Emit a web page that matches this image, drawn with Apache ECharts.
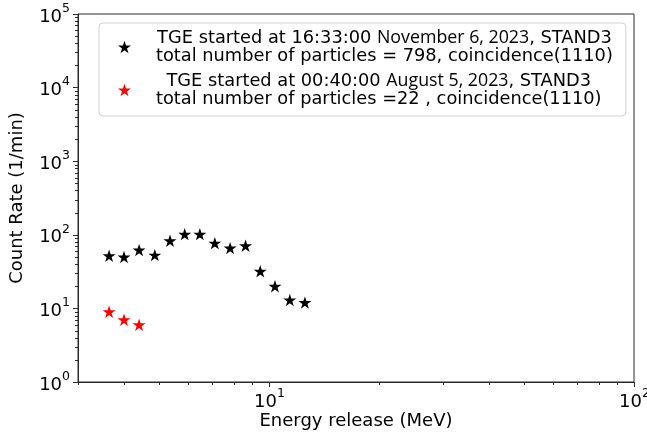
<!DOCTYPE html>
<html>
<head>
<meta charset="utf-8">
<script src="https://cdn.jsdelivr.net/npm/echarts@6/dist/echarts.min.js"></script>
<style>
  html, body { margin: 0; padding: 0; background: #fff; }
  #chart { width: 647px; height: 435px; }
</style>
</head>
<body>
<div id="chart"></div>
<script>
// Energy bins (MeV) and count rates (1/min) for the two TGE events
const energy = [3.65, 4.01, 4.41, 4.87, 5.36, 5.88, 6.47, 7.11, 7.83, 8.63, 9.47, 10.39, 11.41, 12.55];
const novRate = [52, 50, 62, 53, 83, 102, 102, 77, 66, 71, 32, 20, 13, 12];
const augEnergy = [3.65, 4.01, 4.41];
const augRate = [9, 7, 6];

const novLabel = ['TGE started at 16:33:00 ', 'November 6, 2023', ', STAND3', 'total number of particles = 798, coincidence(1110)'];
const augLabel = ['TGE started at 00:40:00 ', 'August 5, 2023', ', STAND3', 'total number of particles =22 , coincidence(1110)'];

// Axis ranges and tick values
const X_MIN = 3, X_MAX = 100;
const Y_MIN = 1, Y_MAX = 100000;
const xMajorTicks = [10, 100];
const xMinorTicks = [3, 4, 5, 6, 7, 8, 9, 20, 30, 40, 50, 60, 70, 80, 90];
const yMinorTicks = [
  2, 3, 4, 5, 6, 7, 8, 9,
  20, 30, 40, 50, 60, 70, 80, 90,
  200, 300, 400, 500, 600, 700, 800, 900,
  2000, 3000, 4000, 5000, 6000, 7000, 8000, 9000,
  20000, 30000, 40000, 50000, 60000, 70000, 80000, 90000
];

const FONT = 'DejaVu Sans';
const AXIS_COLOR = '#2a2a2a';
const STAR = 'path://M50 0 L61.23 34.55 L97.55 34.55 L68.17 55.9 L79.39 90.45 L50 69.1 L20.61 90.45 L31.83 55.9 L2.45 34.55 L38.77 34.55 Z';

const powRich = {
  b: { fontFamily: FONT, fontSize: 18, color: '#000', verticalAlign: 'bottom', lineHeight: 24 },
  s: { fontFamily: FONT, fontSize: 12.5, color: '#000', verticalAlign: 'top', lineHeight: 24 }
};
function powLabel(v) {
  return '{b|10}{s|' + Math.round(Math.log10(v)) + '}';
}

const legendRich = {
  t: { fontFamily: FONT, fontSize: 17.8, color: '#000', align: 'center', lineHeight: 18 },
  d: { fontFamily: 'Open Sans', fontSize: 17.8, color: '#000', align: 'center', lineHeight: 18 }
};
function legendText(parts) {
  return '{t|' + parts[0] + '}{d|' + parts[1] + '}{t|' + parts[2] + '}\n{t|' + parts[3] + '}';
}
const novName = 'nov';
const augName = 'aug';

const xTickData = xMajorTicks.map(v => [v, Y_MIN, 1]).concat(xMinorTicks.map(v => [v, Y_MIN, 0]));
const yTickData = yMinorTicks.map(v => [X_MIN, v]);

const chart = echarts.init(document.getElementById('chart'), null, { renderer: 'canvas' });
chart.setOption({
  animation: false,
  backgroundColor: '#fff',
  grid: {
    left: 78, right: 13, top: 14, bottom: 53,
    show: true, borderColor: AXIS_COLOR, borderWidth: 1, backgroundColor: 'transparent'
  },
  legend: {
    orient: 'vertical',
    left: 99, top: 23,
    padding: [6, 13, 8, 19],
    itemGap: 7,
    itemWidth: 13, itemHeight: 13,
    icon: STAR,
    borderColor: '#d0d0d0', borderWidth: 1, borderRadius: 4,
    backgroundColor: 'rgba(255,255,255,0.85)',
    selectedMode: false,
    data: [novName, augName],
    formatter: function (name) {
      return legendText(name === novName ? novLabel : augLabel);
    },
    textStyle: {
      fontFamily: FONT, fontSize: 17.8, color: '#000',
      padding: [0, 0, 0, 20],
      rich: legendRich
    }
  },
  xAxis: {
    type: 'log', logBase: 10, min: X_MIN, max: X_MAX,
    name: 'Energy release (MeV)', nameLocation: 'middle', nameGap: 30,
    nameTextStyle: { fontFamily: FONT, fontSize: 18, color: '#000' },
    axisLine: { show: true, lineStyle: { color: AXIS_COLOR, width: 1 } },
    axisTick: { show: false },
    axisLabel: { show: false },
    splitLine: { show: false }
  },
  yAxis: {
    type: 'log', logBase: 10, min: Y_MIN, max: Y_MAX,
    name: 'Count Rate (1/min)', nameLocation: 'middle', nameGap: 52,
    nameTextStyle: { fontFamily: FONT, fontSize: 18, color: '#000' },
    axisLine: { show: true, lineStyle: { color: AXIS_COLOR, width: 1 } },
    axisTick: { show: true, length: 5, lineStyle: { color: AXIS_COLOR, width: 1 } },
    axisLabel: {
      margin: 8,
      formatter: powLabel,
      rich: powRich
    },
    splitLine: { show: false }
  },
  series: [
    {
      name: novName, type: 'scatter',
      symbol: STAR, symbolSize: 13, symbolKeepAspect: true,
      itemStyle: { color: '#000', opacity: 1 },
      data: energy.map((e, i) => [e, novRate[i]]),
      z: 3
    },
    {
      name: augName, type: 'scatter',
      symbol: STAR, symbolSize: 13, symbolKeepAspect: true,
      itemStyle: { color: '#ff0000', opacity: 1 },
      data: augEnergy.map((e, i) => [e, augRate[i]]),
      z: 3
    },
    {
      // bottom-axis ticks (major with labels, minor without)
      type: 'custom', name: 'xticks', silent: true, clip: false,
      encode: { x: 0, y: 1 },
      data: xTickData,
      renderItem: function (params, api) {
        const p = api.coord([api.value(0), api.value(1)]);
        const major = api.value(2) === 1;
        const x = Math.round(p[0]) + 0.5;
        const y = Math.round(p[1]);
        const children = [{
          type: 'line',
          shape: { x1: x, y1: y, x2: x, y2: y + (major ? 5 : 3) },
          style: { stroke: AXIS_COLOR, lineWidth: 1 }
        }];
        if (major) {
          children.push({
            type: 'text',
            style: {
              text: powLabel(api.value(0)), x: x, y: y + 5,
              align: 'center', verticalAlign: 'top', rich: powRich
            }
          });
        }
        return { type: 'group', children: children };
      }
    },
    {
      // left-axis minor ticks
      type: 'custom', name: 'yticks', silent: true, clip: false,
      encode: { x: 0, y: 1 },
      data: yTickData,
      renderItem: function (params, api) {
        const p = api.coord([api.value(0), api.value(1)]);
        const x = Math.round(p[0]);
        const y = Math.round(p[1]) + 0.5;
        return {
          type: 'line',
          shape: { x1: x, y1: y, x2: x - 3, y2: y },
          style: { stroke: AXIS_COLOR, lineWidth: 1 }
        };
      }
    }
  ]
});
</script>
</body>
</html>
